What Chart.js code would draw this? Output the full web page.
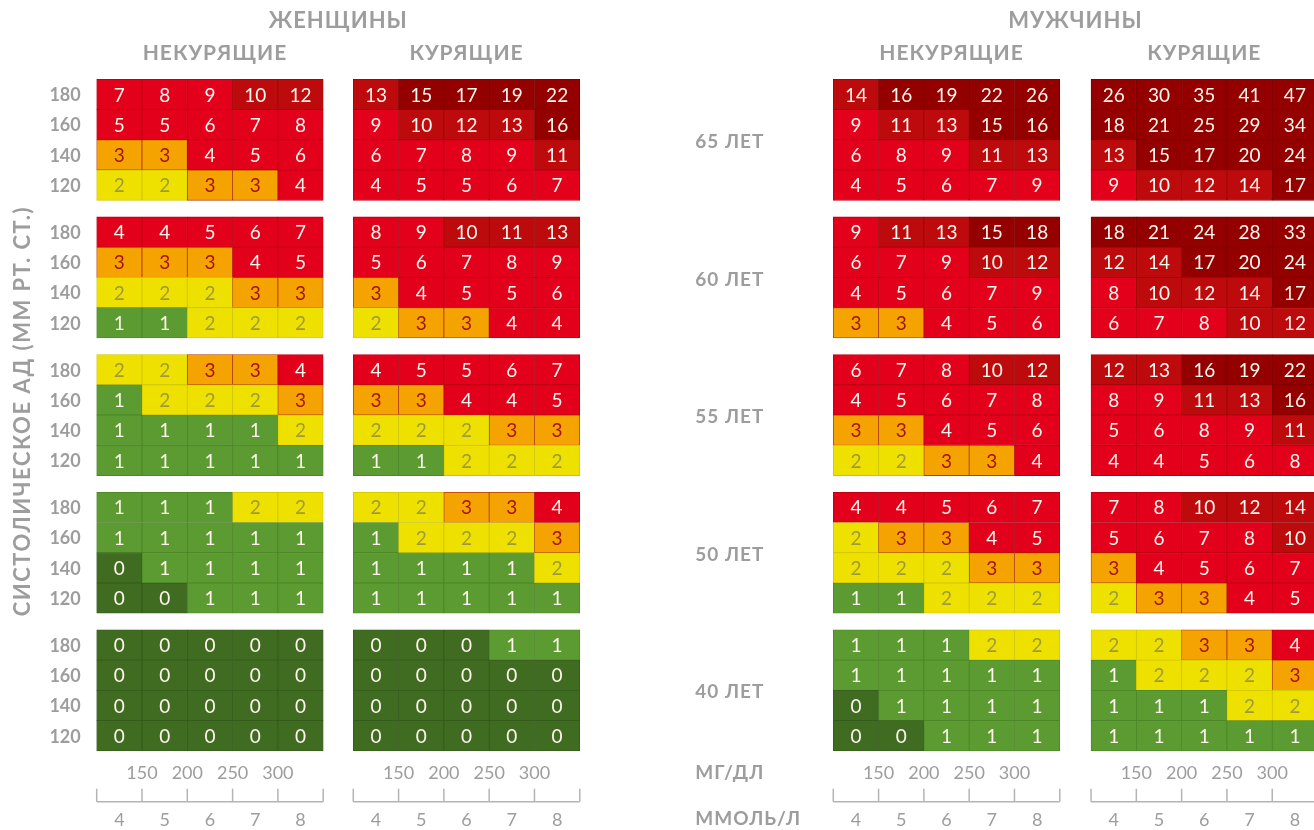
<!DOCTYPE html>
<html>
<head>
<meta charset="utf-8">
<script src="https://cdn.jsdelivr.net/npm/chart.js@4.4.1/dist/chart.umd.min.js"></script>
<style>
  html, body { margin: 0; padding: 0; background: #fff; }
  canvas { display: block; }
</style>
</head>
<body>
<canvas id="score" width="1314" height="830"></canvas>
<script>
// SCORE risk table: 10-year risk (%) by sex, smoking, age, systolic BP, cholesterol
const ages = ['65 ЛЕТ', '60 ЛЕТ', '55 ЛЕТ', '50 ЛЕТ', '40 ЛЕТ'];
const pressure = ['180', '160', '140', '120'];
const cholMmol = ['4', '5', '6', '7', '8'];
const cholMg = ['150', '200', '250', '300'];

// rows: 180, 160, 140, 120 ; columns: 4..8 mmol/l
const womenNonSmoking = [
  [[7, 8, 9, 10, 12], [5, 5, 6, 7, 8], [3, 3, 4, 5, 6], [2, 2, 3, 3, 4]],
  [[4, 4, 5, 6, 7], [3, 3, 3, 4, 5], [2, 2, 2, 3, 3], [1, 1, 2, 2, 2]],
  [[2, 2, 3, 3, 4], [1, 2, 2, 2, 3], [1, 1, 1, 1, 2], [1, 1, 1, 1, 1]],
  [[1, 1, 1, 2, 2], [1, 1, 1, 1, 1], [0, 1, 1, 1, 1], [0, 0, 1, 1, 1]],
  [[0, 0, 0, 0, 0], [0, 0, 0, 0, 0], [0, 0, 0, 0, 0], [0, 0, 0, 0, 0]]
];
const womenSmoking = [
  [[13, 15, 17, 19, 22], [9, 10, 12, 13, 16], [6, 7, 8, 9, 11], [4, 5, 5, 6, 7]],
  [[8, 9, 10, 11, 13], [5, 6, 7, 8, 9], [3, 4, 5, 5, 6], [2, 3, 3, 4, 4]],
  [[4, 5, 5, 6, 7], [3, 3, 4, 4, 5], [2, 2, 2, 3, 3], [1, 1, 2, 2, 2]],
  [[2, 2, 3, 3, 4], [1, 2, 2, 2, 3], [1, 1, 1, 1, 2], [1, 1, 1, 1, 1]],
  [[0, 0, 0, 1, 1], [0, 0, 0, 0, 0], [0, 0, 0, 0, 0], [0, 0, 0, 0, 0]]
];
const menNonSmoking = [
  [[14, 16, 19, 22, 26], [9, 11, 13, 15, 16], [6, 8, 9, 11, 13], [4, 5, 6, 7, 9]],
  [[9, 11, 13, 15, 18], [6, 7, 9, 10, 12], [4, 5, 6, 7, 9], [3, 3, 4, 5, 6]],
  [[6, 7, 8, 10, 12], [4, 5, 6, 7, 8], [3, 3, 4, 5, 6], [2, 2, 3, 3, 4]],
  [[4, 4, 5, 6, 7], [2, 3, 3, 4, 5], [2, 2, 2, 3, 3], [1, 1, 2, 2, 2]],
  [[1, 1, 1, 2, 2], [1, 1, 1, 1, 1], [0, 1, 1, 1, 1], [0, 0, 1, 1, 1]]
];
const menSmoking = [
  [[26, 30, 35, 41, 47], [18, 21, 25, 29, 34], [13, 15, 17, 20, 24], [9, 10, 12, 14, 17]],
  [[18, 21, 24, 28, 33], [12, 14, 17, 20, 24], [8, 10, 12, 14, 17], [6, 7, 8, 10, 12]],
  [[12, 13, 16, 19, 22], [8, 9, 11, 13, 16], [5, 6, 8, 9, 11], [4, 4, 5, 6, 8]],
  [[7, 8, 10, 12, 14], [5, 6, 7, 8, 10], [3, 4, 5, 6, 7], [2, 3, 3, 4, 5]],
  [[2, 2, 3, 3, 4], [1, 2, 2, 2, 3], [1, 1, 1, 2, 2], [1, 1, 1, 1, 1]]
];

const panels = [womenNonSmoking, womenSmoking, menNonSmoking, menSmoking];
const panelTitles = ['НЕКУРЯЩИЕ', 'КУРЯЩИЕ', 'НЕКУРЯЩИЕ', 'КУРЯЩИЕ'];
const sexTitles = ['ЖЕНЩИНЫ', 'МУЖЧИНЫ'];

// layout (in cell units)
const panelStart = [0, 5.664, 16.26, 21.95];
const blockStep = 4.55;

function cellColor(v) {
  if (v === 0) return '#3f6c21';
  if (v === 1) return '#5b9b31';
  if (v === 2) return '#eee100';
  if (v === 3) return '#f4a300';
  if (v < 10) return '#e2001a';
  if (v < 15) return '#bd0a0c';
  return '#940000';
}
function cellBorder(v) {
  if (v === 0) return '#345a1b';
  if (v === 1) return '#4b8527';
  if (v === 2) return '#cfc400';
  if (v === 3) return '#b43a06';
  if (v < 10) return '#b90010';
  if (v < 15) return '#9e0608';
  return '#7c0000';
}
function textColor(v) {
  if (v === 2) return '#9f9a3a';
  if (v === 3) return '#a3160a';
  return '#fff6ee';
}

const datasets = panels.map((panel, p) => {
  const points = [];
  panel.forEach((block, b) => {
    block.forEach((row, r) => {
      row.forEach((v, c) => {
        const top = b * blockStep + r;
        points.push({ x: panelStart[p] + c + 0.5, y: [top, top + 1], v: v });
      });
    });
  });
  return {
    label: panelTitles[p],
    data: points,
    grouped: false,
    barPercentage: 1,
    categoryPercentage: 1,
    borderSkipped: false,
    borderWidth: 0.8,
    backgroundColor: ctx => cellColor(ctx.raw.v),
    borderColor: ctx => cellBorder(ctx.raw.v)
  };
});

const colCenters = [];
panelStart.forEach(s => cholMmol.forEach((m, c) => colCenters.push(s + c + 0.5)));

const grey = '#9d9d9d';
const textPlugin = {
  id: 'scoreText',
  afterDatasetsDraw(chart) {
    const ctx = chart.ctx;
    const xs = chart.scales.x, ys = chart.scales.y;
    const px = v => xs.getPixelForValue(v);
    const py = v => ys.getPixelForValue(v);
    ctx.save();
    ctx.textAlign = 'center';
    ctx.textBaseline = 'middle';

    // cell values
    ctx.font = '19px Lato';
    chart.data.datasets.forEach((ds, i) => {
      chart.getDatasetMeta(i).data.forEach((el, j) => {
        const v = ds.data[j].v;
        ctx.fillStyle = textColor(v);
        ctx.fillText(String(v), el.x, (el.y + el.base) / 2 + 1);
      });
    });

    // headings
    ctx.fillStyle = grey;
    ctx.letterSpacing = '1px';
    ctx.font = 'bold 22px Lato';
    ctx.fillText(sexTitles[0], (px(panelStart[0]) + px(panelStart[1] + 5)) / 2, 21);
    ctx.fillText(sexTitles[1], (px(panelStart[2]) + px(panelStart[3] + 5)) / 2, 21);
    ctx.font = 'bold 21px Lato';
    panelTitles.forEach((t, p) => {
      const off = t === 'НЕКУРЯЩИЕ' ? 5 : 0;
      ctx.fillText(t, px(panelStart[p] + 2.5) + off, 53);
    });
    ctx.letterSpacing = '0px';

    // systolic pressure labels
    ctx.font = 'bold 18px Lato';
    ctx.textAlign = 'right';
    ages.forEach((a, b) => {
      pressure.forEach((s, r) => {
        ctx.fillText(s, px(panelStart[0]) - 16, py(b * blockStep + r + 0.5) + 1);
      });
    });

    // age labels
    ctx.textAlign = 'left';
    ctx.font = 'bold 19px Lato';
    ctx.letterSpacing = '1px';
    const ageX = px(panelStart[2]) - 138;
    ages.forEach((a, b) => {
      ctx.fillText(a, ageX, py(b * blockStep + 2) + 2);
    });

    // cholesterol axis
    const bottom = py((ages.length - 1) * blockStep + 4);
    ctx.fillText('МГ/ДЛ', ageX, bottom + 22);
    ctx.fillText('ММОЛЬ/Л', ageX, bottom + 68);
    ctx.letterSpacing = '0px';
    ctx.textAlign = 'center';
    ctx.font = '18px Lato';
    ctx.strokeStyle = '#b4b4b4';
    ctx.lineWidth = 1.5;
    panelStart.forEach(s => {
      cholMg.forEach((m, i) => ctx.fillText(m, px(s + i + 1), bottom + 22));
      cholMmol.forEach((m, i) => ctx.fillText(m, px(s + i + 0.5), bottom + 69));
      ctx.beginPath();
      ctx.moveTo(px(s), bottom + 51);
      ctx.lineTo(px(s + 5), bottom + 51);
      for (let i = 0; i <= 5; i++) {
        ctx.moveTo(px(s + i), bottom + 38);
        ctx.lineTo(px(s + i), bottom + 51);
      }
      ctx.stroke();
    });

    // vertical axis title
    ctx.save();
    ctx.translate(23, (py(0) + bottom) / 2 - 4);
    ctx.rotate(-Math.PI / 2);
    ctx.font = 'bold 22px Lato';
    ctx.letterSpacing = '1.5px';
    ctx.fillText('СИСТОЛИЧЕСКОЕ АД (ММ РТ. СТ.)', 0, 0);
    ctx.restore();

    ctx.restore();
  }
};

new Chart(document.getElementById('score'), {
  type: 'bar',
  data: { datasets: datasets },
  options: {
    responsive: false,
    animation: false,
    layout: { padding: 0 },
    plugins: { legend: { display: false }, tooltip: { enabled: false } },
    scales: {
      x: {
        type: 'linear',
        display: false,
        offset: false,
        min: -96.7 / 45.3,
        max: (1314 - 96.7) / 45.3,
        afterBuildTicks: axis => { axis.ticks = colCenters.map(v => ({ value: v })); }
      },
      y: {
        type: 'linear',
        display: false,
        reverse: true,
        min: -79.3 / 30.25,
        max: (830 - 79.3) / 30.25
      }
    }
  },
  plugins: [textPlugin]
});
</script>
</body>
</html>
